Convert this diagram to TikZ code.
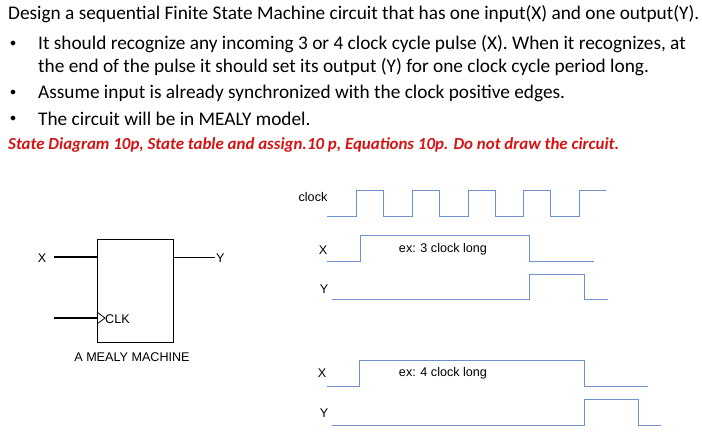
\documentclass[tikz,border=0pt]{standalone}
\usepackage{fontspec}
\setmainfont{Carlito}
\newfontfamily\arialfont{Liberation Sans}
\usetikzlibrary{positioning}
\definecolor{wave}{RGB}{110,145,205}
\definecolor{task}{RGB}{210,20,20}
\tikzset{
    line/.style={left, inner sep=0pt, font=\fontsize{19.3}{22}\selectfont},
    lbl/.style={inner sep=0pt, font=\arialfont\fontsize{12.6}{14}\selectfont},
    wire/.style={line width=1.4pt},
    sig/.style={wave, line width=0.8pt},
}
\begin{document}
\begin{tikzpicture}[x=1pt,y=-1pt]
    \useasboundingbox (0,0) rectangle (702,442);
    % problem text
    \node[line, anchor=west] (t1) at (8,14) {Design a sequential Finite State Machine circuit that has one input(X) and one output(Y).};
    \foreach \y/\n in {44/b1, 93/b2, 119/b3} {
        \node[line, anchor=center, font=\fontsize{13}{14}\selectfont] (\n) at (13,\y) {$\bullet$};
    }
    \node[line, anchor=west] (t2) at (38,44) {It should recognize any incoming 3 or 4 clock cycle pulse (X). When it recognizes, at};
    \node[line, anchor=west] (t3) at (38,67) {the end of the pulse it should set its output (Y) for one clock cycle period long.};
    \node[line, anchor=west] (t4) at (38,93) {Assume input is already synchronized with the clock positive edges.};
    \node[line, anchor=west] (t5) at (38,119) {The circuit will be in MEALY model.};
    \node[line, anchor=west, text=task, font=\fontsize{16.9}{19}\selectfont\bfseries\itshape] (t6) at (8,145)
        {State Diagram 10p, State table and assign.10 p, Equations 10p. Do not draw the circuit.};

    % mealy machine block
    \draw[line width=1pt] (97,239) rectangle (173,342);
    \coordinate (xin) at (97,257);
    \coordinate (ckin) at (97,318);
    \coordinate (yout) at (173,257);
    \node[lbl] (xl) at (42,258) {X};
    \node[lbl, anchor=west] (yl) at (216,258) {Y};
    \draw[wire] (54,257) -- (xin);
    \draw[wire] (54,318) -- (ckin);
    \draw[line width=0.8pt] (yout) -- (215,257);
    \draw[line width=0.8pt] (97,312) -- (105,318) -- (97,324);
    \node[lbl, anchor=west] (clk) at (105,319) {CLK};
    \node[lbl] (mealy) at (132,357) {A MEALY MACHINE};

    % waveforms
    \node[lbl] (clkl) at (313,197) {clock};
    \draw[sig] (327,216) \foreach \r in {356,412,468,523} {
        -- (\r,216) -- (\r,190) -- (\r+27,190) -- (\r+27,216)} -- (579,216) -- (579,190) -- (606,190);
    \node[lbl] (x1l) at (323,250) {X};
    \draw[sig] (327,261) -- (360,261) -- (360,235) -- (529,235) -- (529,261) -- (594,261);
    \node[lbl] (ex3) at (443,249) {ex: 3 clock long};
    \node[lbl] (y1l) at (324,289) {Y};
    \draw[sig] (332,299) -- (529,299) -- (529,274) -- (584,274) -- (584,299) -- (608,299);
    \node[lbl] (x2l) at (322,373) {X};
    \draw[sig] (327,386) -- (359,386) -- (359,360) -- (584,360) -- (584,386) -- (648,386);
    \node[lbl] (ex4) at (443,373) {ex: 4 clock long};
    \node[lbl] (y2l) at (324,413) {Y};
    \draw[sig] (332,425) -- (584,425) -- (584,399) -- (638,399) -- (638,425) -- (661,425);
\end{tikzpicture}
\end{document}
